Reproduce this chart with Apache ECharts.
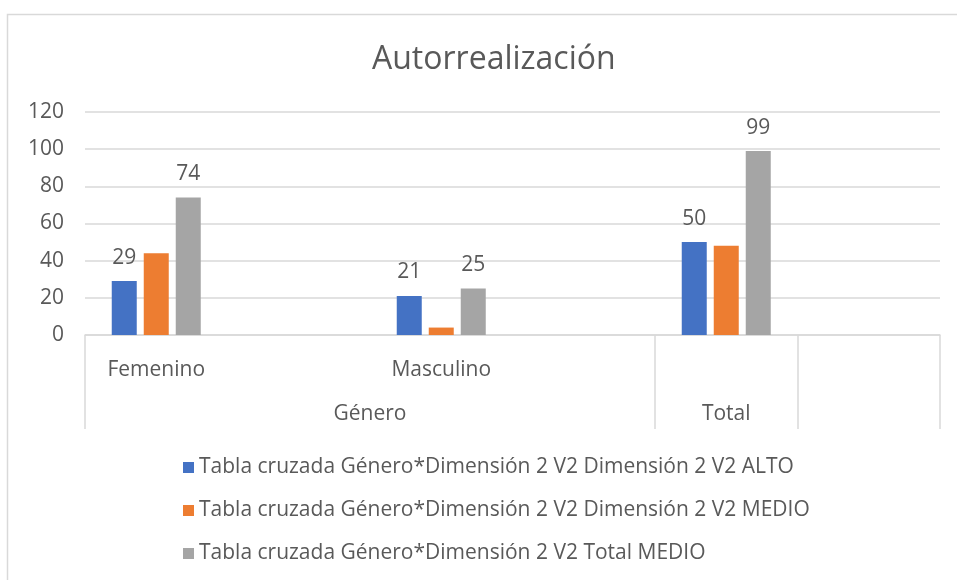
<!DOCTYPE html>
<html>
<head>
<meta charset="utf-8">
<script src="https://cdn.jsdelivr.net/npm/echarts@6/dist/echarts.min.js"></script>
<style>
  html, body { margin: 0; padding: 0; background: #fff; }
  #chart { width: 957px; height: 580px; }
</style>
</head>
<body>
<div id="chart"></div>
<script>
// categorías (nivel 1) y grupos (nivel 2)
const categories = ["Femenino", "", "Masculino", "", "", ""];
const groupLabels = { 4: "Género", 9: "Total" };   // posición en escala 0..12
const groupBounds = [0, 8, 10, 12];

const seriesNames = [
  "Tabla cruzada Género*Dimensión 2 V2 Dimensión 2 V2 ALTO",
  "Tabla cruzada Género*Dimensión 2 V2 Dimensión 2 V2 MEDIO",
  "Tabla cruzada Género*Dimensión 2 V2 Total MEDIO"
];
const alto = [29, null, 21, null, 50, null];
const medio = [44, null, 4, null, 48, null];
const totalMedio = [74, null, 25, null, 99, null];

const colors = ["#4472c4", "#ed7d31", "#a5a5a5"];
const textColor = "#595959";
const fontFamily = "'Open Sans', 'Noto Sans', sans-serif";

let chart = echarts.init(document.getElementById("chart"));

function barSeries(name, data, color, showLabel) {
  return {
    name: name,
    type: "bar",
    xAxisIndex: 0,
    data: data,
    barWidth: 25,
    barGap: "28%",
    itemStyle: { color: color },
    label: {
      show: showLabel,
      position: "top",
      distance: 13,
      color: textColor,
      fontSize: 21,
      fontFamily: fontFamily
    }
  };
}

let option = {
  animation: false,
  backgroundColor: "#fff",
  title: {
    text: "Autorrealización",
    left: 367,
    top: 39,
    textStyle: {
      color: textColor,
      fontSize: 32,
      fontWeight: "normal",
      fontFamily: fontFamily
    }
  },
  graphic: [
    {
      type: "rect",
      left: 5,
      top: 12,
      shape: { width: 1000, height: 1000 },
      style: { fill: "none", stroke: "#d9d9d9", lineWidth: 1.5 },
      silent: true
    }
  ],
  legend: {
    orient: "vertical",
    left: 178,
    top: 452,
    itemGap: 22,
    itemWidth: 11,
    itemHeight: 11,
    icon: "rect",
    textStyle: { color: textColor, fontSize: 21, fontFamily: fontFamily },
    data: seriesNames
  },
  grid: {
    left: 85,
    right: 17,
    top: 112,
    bottom: 245
  },
  xAxis: [
    {
      type: "category",
      data: categories,
      axisLine: { lineStyle: { color: "#d9d9d9", width: 1.5 } },
      axisTick: { show: false },
      axisLabel: {
        interval: 0,
        margin: 25,
        color: textColor,
        fontSize: 21,
        fontFamily: fontFamily
      }
    },
    {
      type: "value",
      position: "bottom",
      min: 0,
      max: 12,
      splitLine: { show: false },
      axisLine: { show: false },
      axisTick: {
        show: true,
        customValues: groupBounds,
        length: 94,
        lineStyle: { color: "#d9d9d9", width: 1.5 }
      },
      axisLabel: {
        customValues: [4, 9],
        margin: 69,
        color: textColor,
        fontSize: 21,
        fontFamily: fontFamily,
        formatter: function (v) { return groupLabels[v] || ""; }
      }
    }
  ],
  yAxis: {
    type: "value",
    min: 0,
    max: 120,
    interval: 20,
    axisLine: { show: false },
    axisTick: { show: false },
    splitLine: { lineStyle: { color: "#d9d9d9", width: 1.5 } },
    axisLabel: {
      margin: 21,
      color: textColor,
      fontSize: 21,
      fontFamily: fontFamily
    }
  },
  series: [
    barSeries(seriesNames[0], alto, colors[0], true),
    barSeries(seriesNames[1], medio, colors[1], false),
    barSeries(seriesNames[2], totalMedio, colors[2], true)
  ]
};

chart.setOption(option);
</script>
</body>
</html>
